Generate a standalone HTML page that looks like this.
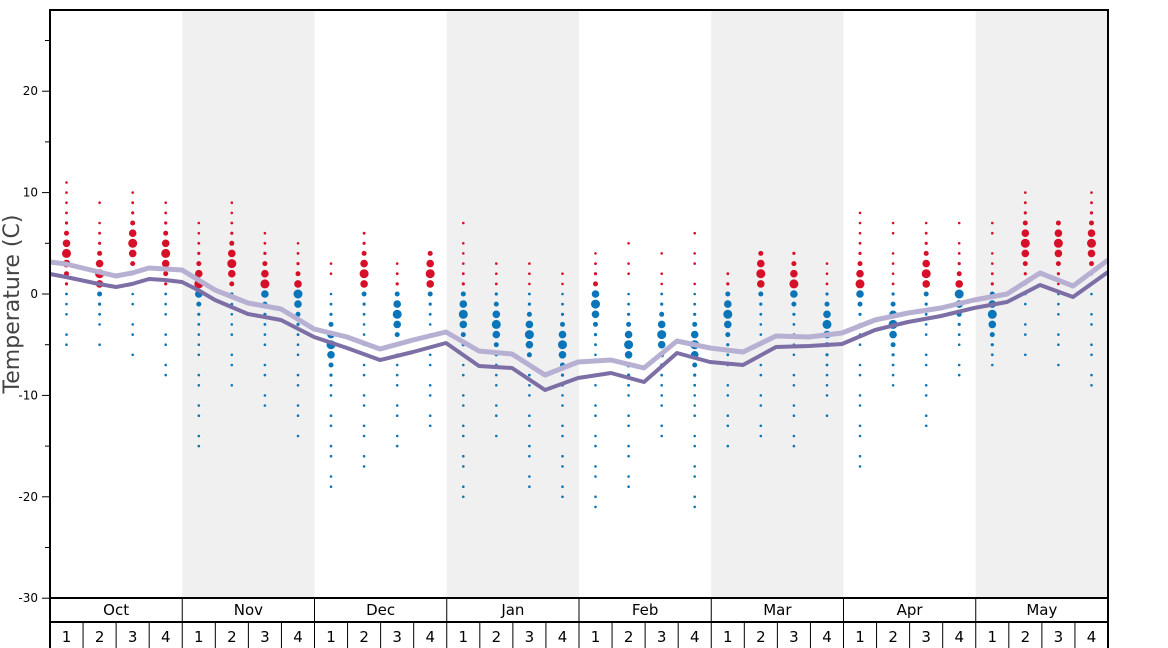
<!DOCTYPE html>
<html><head><meta charset="utf-8"><style>
body{margin:0;background:#fff;}
svg{display:block;font-family:"DejaVu Sans","Liberation Sans",sans-serif;}
</style></head><body>
<svg id="s" width="1168" height="648" xmlns="http://www.w3.org/2000/svg"></svg>
<script>
const s=document.getElementById('s');let h='';
const X0=50,X1=1108,Y0=10,Y1=598;
const ty=t=>294-t*10.14;
const mw=(X1-X0)/8, ww=mw/4;
const months=['Oct','Nov','Dec','Jan','Feb','Mar','Apr','May'];
for(let m=0;m<8;m++){ if(m%2==1) h+=`<rect x="${X0+m*mw}" y="${Y0}" width="${mw}" height="${Y1-Y0}" fill="#f0f0f0"/>`;}
const data=[[11,-5,4],[9,-5,2],[10,-6,5],[9,-9,4],[7,-15,1],[9,-9,3],[6,-11,1],[5,-14,0],[4,-20,-5],[6,-17,2],[3,-15,-2],[4,-13,2],[7,-20,-2],[3,-14,-3],[3,-19,-4],[3,-21,-5],[5,-22,-1],[5,-20,-5],[4,-15,-4],[6,-22,-5],[2,-15,-2],[4,-14,2],[4,-15,1],[3,-12,-3],[8,-17,1],[7,-10,-3],[7,-14,2],[7,-9,0],[8,-7,-2],[10,-6,5],[7,-7,5],[10,-10,5]];
const lines=[];
data.forEach((d,i)=>{const cx=X0+ww*(i+0.5);for(let t=d[1];t<=d[0];t++){
 const dist=Math.abs(t-d[2]);
 if(dist>5 && ((t+i)%3==0)) continue;
 const r=1.3+3.2*Math.exp(-Math.pow((t-d[2])/2,2));
 h+=`<circle cx="${cx.toFixed(1)}" cy="${ty(t).toFixed(1)}" r="${r.toFixed(1)}" fill="${t>=1?'#d7102a':'#0a75b8'}"/>`;}});
const dark=[[50,274],[66,277],[99,284],[116,287],[132,284],[149,279],[165,280],[182,282],[198,290],[215,300],[248,314],[281,320],[314,337],[347,348],[380,360],[413,352],[446,343],[479,366],[512,368],[545,390],[578,378],[611,373],[644,382],[677,353],[710,362],[743,365],[776,347],[809,346],[842,344],[875,330],[908,322],[941,316],[974,308],[1007,302],[1040,285],[1073,297],[1108,272]];
const light=[[50,262],[66,264],[99,272],[116,276],[132,273],[149,268],[182,270],[215,290],[248,303],[281,309],[314,329],[347,337],[380,349],[413,340],[446,332],[479,351],[512,354],[545,375],[578,362],[611,360],[644,368],[677,341],[710,348],[743,352],[776,336],[809,337],[842,333],[875,320],[908,313],[941,308],[974,300],[1007,294],[1040,273],[1073,286],[1108,260]];
h+=`<polyline points="${light.map(p=>p.join(',')).join(' ')}" fill="none" stroke="#b8b0d2" stroke-width="5" stroke-linejoin="round"/>`;
h+=`<polyline points="${dark.map(p=>p.join(',')).join(' ')}" fill="none" stroke="#7d6ea6" stroke-width="4" stroke-linejoin="round"/>`;
h+=`<rect x="${X0}" y="${Y0}" width="${X1-X0}" height="${Y1-Y0}" fill="none" stroke="#000" stroke-width="2"/>`;
for(let t=-30;t<=25;t+=5){const y=ty(t);h+=`<line x1="${t%10==0?42:45}" x2="${X0}" y1="${y}" y2="${y}" stroke="#000"/>`;
 if(t%10==0)h+=`<text x="38" y="${y+4}" font-size="12" text-anchor="end">${t}</text>`;}
h+=`<text transform="translate(19,304) rotate(-90)" font-size="22" fill="#444" text-anchor="middle">Temperature (C)</text>`;
h+=`<line x1="${X0}" x2="${X1}" y1="622" y2="622" stroke="#000" stroke-width="2"/>`;
h+=`<line x1="${X0}" x2="${X0}" y1="598" y2="648" stroke="#000" stroke-width="2"/><line x1="${X1}" x2="${X1}" y1="598" y2="648" stroke="#000" stroke-width="2"/>`;
for(let m=0;m<8;m++){const x=X0+m*mw;if(m>0)h+=`<line x1="${x}" x2="${x}" y1="598" y2="648" stroke="#000"/>`;
 h+=`<text x="${x+mw/2}" y="615" font-size="15" text-anchor="middle">${months[m]}</text>`;
 for(let w=0;w<4;w++){const wx=x+w*ww;if(w>0)h+=`<line x1="${wx}" x2="${wx}" y1="622" y2="648" stroke="#000"/>`;
 h+=`<text x="${wx+ww/2}" y="642" font-size="15" text-anchor="middle">${w+1}</text>`;}}
s.innerHTML=h;
</script>
</body></html>
